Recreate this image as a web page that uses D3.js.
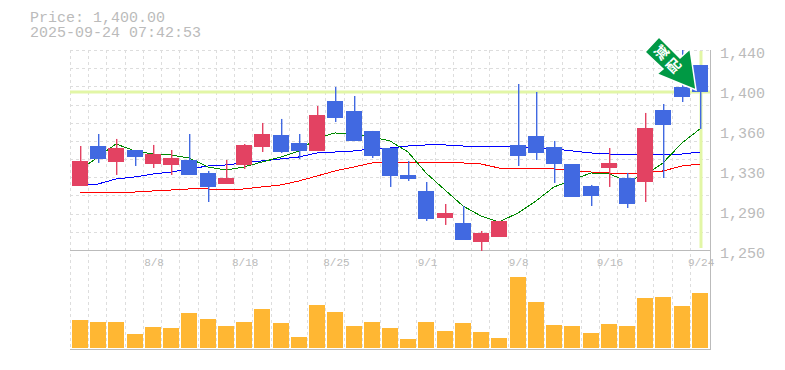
<!DOCTYPE html>
<html>
<head>
<meta charset="utf-8">
<script src="https://cdn.jsdelivr.net/npm/d3@7"></script>
<style>
body { margin: 0; background: #fff; }
text { font-family: "Liberation Mono", monospace; fill: #bbb; }
</style>
</head>
<body>
<svg id="chart" width="785" height="370" style="display:block"></svg>
<script>
const dates = ["8/4","8/5","8/6","8/7","8/8","8/12","8/13","8/14","8/15","8/18","8/19","8/20","8/21","8/22","8/25","8/26","8/27","8/28","8/29","9/1","9/2","9/3","9/4","9/5","9/8","9/9","9/10","9/11","9/12","9/16","9/17","9/18","9/19","9/22","9/24"];
const opens  = [1310.8,1348.8,1333.6,1345,1331.7,1330.8,1335.5,1323.2,1312.7,1330.8,1347.9,1359.3,1351.7,1344.1,1391.6,1382.1,1363.1,1346.9,1321.3,1306.1,1280.4,1275.7,1257.6,1262.4,1349.8,1358.3,1347.9,1331.7,1310.8,1327.9,1318.4,1314.6,1383,1404.9,1425.8];
const highs  = [1348.8,1360.2,1355.5,1345,1349.8,1345,1360.2,1325.1,1335.5,1350.7,1370.7,1374.5,1360.2,1386.8,1404.9,1396.3,1363.1,1346.9,1334.6,1314.6,1293.7,1291.8,1268.1,1277.6,1407.7,1400.1,1353.6,1331.7,1311.8,1346.9,1323.2,1380.2,1388.7,1440,1425.8];
const lows   = [1310.8,1332.7,1321.3,1329.8,1327.9,1321.3,1321.3,1295.6,1312.7,1327,1343.1,1342.2,1336.5,1344.1,1371.6,1353.6,1337.4,1309.9,1315.6,1277.6,1273.8,1259.5,1249.1,1262.4,1329.8,1335.5,1313.7,1300.4,1291.8,1309.9,1289.9,1295.6,1318.4,1390.6,1365];
const closes = [1334.6,1336.5,1346.9,1338.4,1341.2,1337.4,1321.3,1309.9,1318.4,1349.8,1360.2,1343.1,1344.1,1378.3,1375.4,1353.6,1339.3,1320.3,1317.5,1279.5,1285.2,1259.5,1266.2,1277.6,1339.3,1342.2,1331.7,1300.4,1301.3,1332.7,1293.7,1365.9,1368.8,1395.4,1400];
const maShort = [1326,1338.4,1350.7,1344.1,1341.2,1340.3,1337.4,1328.9,1326,1328.9,1333.6,1338.4,1344.1,1356.4,1361.2,1360.2,1357.4,1353.6,1343.1,1323.2,1307,1291.8,1282.3,1276.6,1285.2,1296.6,1309.9,1316.5,1323.2,1322.2,1315.6,1321.3,1332.7,1351.7,1365];
const maMid = [1311.8,1312.7,1317.5,1319.4,1322.2,1324.1,1327,1329.8,1330.8,1332.7,1334.6,1336.5,1338.4,1342.2,1343.1,1344.1,1346,1346.9,1348.8,1349.8,1349.8,1348.8,1348.8,1347.9,1347.9,1346.9,1346,1344.1,1342.2,1341.2,1341.2,1341.2,1341.2,1341.2,1343.1];
const maLong = [1305.1,1304.2,1304.2,1305.1,1306.1,1307,1308,1308,1307,1308,1309.9,1311.8,1315.6,1320.3,1325.1,1328.9,1332.7,1332.7,1332.7,1332.7,1332.7,1332.7,1331.7,1327.9,1327.9,1327.9,1327,1325.1,1324.1,1323.2,1322.2,1323.2,1325.1,1329.8,1331.7];
const volume = [28,26,26,14,21,20,35,29,22,26,39,25,11,43,36,22,26,20,9,26,17,25,16,10,71,46,23,22,15,24,22,50,51,42,55];
const priceTicks = [1250,1288,1326,1364,1402,1440];
const priceLabels = ["1,250","1,290","1,330","1,360","1,400","1,440"];
const dateTicks = ["8/8","8/18","8/25","9/1","9/8","9/16","9/24"];
const lastPrice = 1400;
const title = ["Price: 1,400.00", "2025-09-24 07:42:53"];

const plotLeft = 70, plotRight = 710, plotTop = 50, plotMid = 250, plotBottom = 350;
const svg = d3.select("#chart");

const x = d3.scaleBand().domain(dates).range([70, 708.2]);
const y = d3.scaleLinear().domain([1250, 1440]).range([plotMid, plotTop]);
const yVol = d3.scaleLinear().domain([0, 100]).range([348, 248]);
const cx = d => Math.round(x(d) + 10);

// grid
const grid = svg.append("g").attr("stroke", "#ddd").attr("stroke-dasharray", "3,3").attr("shape-rendering", "crispEdges");
grid.selectAll(".v").data(dates).enter().append("line")
	.attr("x1", d => Math.round(x(d)) + .5).attr("x2", d => Math.round(x(d)) + .5)
	.attr("y1", plotTop).attr("y2", plotBottom);
grid.selectAll(".h").data(d3.range(0, 11)).enter().append("line")
	.attr("x1", plotLeft).attr("x2", plotRight)
	.attr("y1", d => Math.round(plotTop + d * 200 / 11) + .5).attr("y2", d => Math.round(plotTop + d * 200 / 11) + .5);

// frame
svg.append("path").attr("fill", "none").attr("stroke", "#bbb").attr("shape-rendering", "crispEdges")
	.attr("d", `M${plotLeft},${plotMid + .5}H${plotRight + .5}M${plotLeft},${plotBottom - .5}H${plotRight + .5}M${plotRight + .5},${plotTop}V${plotBottom}`);

// current price markers
svg.append("line").attr("x1", plotLeft).attr("x2", plotRight).attr("y1", y(lastPrice)).attr("y2", y(lastPrice))
	.attr("stroke", "#e2f6a6").attr("stroke-width", 3);
svg.append("line").attr("x1", cx("9/24") + 1).attr("x2", cx("9/24") + 1).attr("y1", plotTop + 1).attr("y2", plotMid - 2)
	.attr("stroke", "#e2f6a6").attr("stroke-width", 3);

// moving averages
const line = d3.line().x((d, i) => cx(dates[i])).y(d => y(d));
[[maLong, "#f00"], [maMid, "#00f"], [maShort, "#080"]].forEach(([s, c]) => {
	svg.append("path").datum(s).attr("fill", "none").attr("stroke", c).attr("stroke-width", 1).attr("shape-rendering", "crispEdges").attr("d", line);
});

// candles
const upColor = "#e34262", downColor = "#4169e1";
const candle = svg.append("g").selectAll("g").data(dates).enter().append("g")
	.attr("fill", (d, i) => closes[i] >= opens[i] ? upColor : downColor);
candle.append("rect")
	.attr("x", d => cx(d)).attr("width", 1.4)
	.attr("y", (d, i) => y(highs[i])).attr("height", (d, i) => y(lows[i]) - y(highs[i]));
candle.append("rect").attr("shape-rendering", "crispEdges")
	.attr("x", d => cx(d) - 8).attr("width", 16)
	.attr("y", (d, i) => y(Math.max(opens[i], closes[i])))
	.attr("height", (d, i) => Math.abs(y(opens[i]) - y(closes[i])));

// volume
svg.append("g").selectAll("rect").data(volume).enter().append("rect")
	.attr("fill", "#ffb733").attr("shape-rendering", "crispEdges")
	.attr("x", (d, i) => cx(dates[i]) - 8).attr("width", 16)
	.attr("y", d => yVol(d)).attr("height", d => yVol(0) - yVol(d));

// axes
const yAxis = d3.axisRight(y).tickValues(priceTicks).tickSize(0).tickPadding(8).tickFormat((d, i) => priceLabels[i]);
const gy = svg.append("g").attr("transform", `translate(${plotRight + 2},3)`).call(yAxis);
gy.select(".domain").remove();
gy.selectAll("text").style("font-size", "15px");

const xAxis = d3.axisBottom(x).tickValues(dateTicks).tickSize(0).tickPadding(8);
const gx = svg.append("g").attr("transform", `translate(2,${plotMid})`).call(xAxis);
gx.select(".domain").remove();
gx.selectAll("text").style("font-size", "11px");

// title
svg.selectAll(".title").data(title).enter().append("text").attr("class", "title")
	.attr("x", 30).attr("y", (d, i) => 22 + i * 15).style("font-size", "15px").text(d => d);

// arrow marker on the last session
svg.append("path")
	.attr("d", "M659,37 L680,58 L690,49 L696,90 L657,74 L663,69 L645,52 Z")
	.attr("fill", "#009944").attr("stroke", "#fff").attr("stroke-width", 1.5);
svg.selectAll(".mark").data([["減", 661, 52], ["配", 673, 65]]).enter().append("text").attr("class", "mark")
	.attr("text-anchor", "middle").attr("dominant-baseline", "central")
	.attr("transform", d => `translate(${d[1]},${d[2]}) rotate(-45)`)
	.attr("font-size", 14).attr("font-weight", 700)
	.style("font-family", "'Noto Sans CJK JP'").style("fill", "#fff").text(d => d[0]);
</script>
</body>
</html>
